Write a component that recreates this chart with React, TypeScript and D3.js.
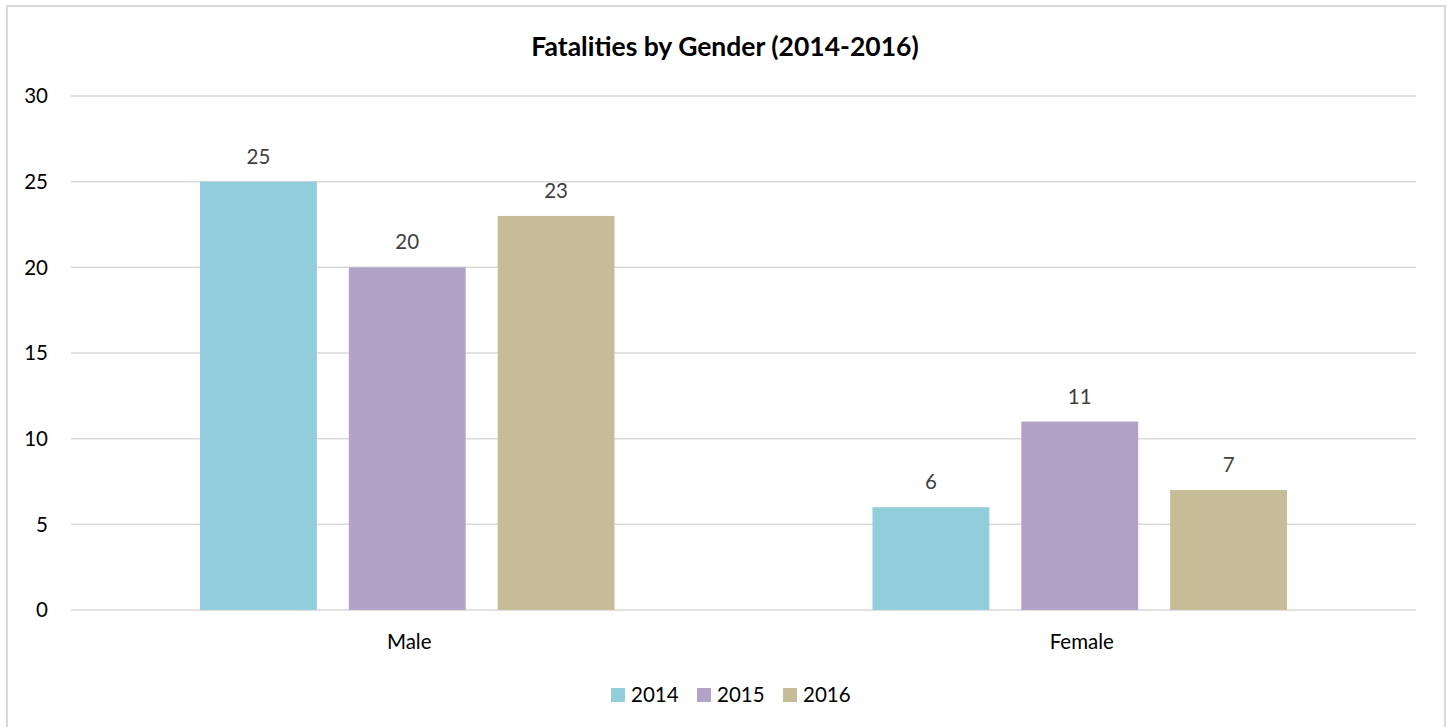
import React from "react";
import * as d3 from "d3";

const categories = ["Male", "Female"];
const seriesNames = ["2014", "2015", "2016"];
const values2014 = [25, 6];
const values2015 = [20, 11];
const values2016 = [23, 7];
const seriesValues = [values2014, values2015, values2016];
const colors = ["#92CDDC", "#B3A2C7", "#C4BD97"];
const yTicks = [0, 5, 10, 15, 20, 25, 30];

const W = 1448;
const H = 727;
const left = 71;
const right = 1416;
const top = 96;
const bottom = 610;
const font = "Lato, 'Open Sans', sans-serif";
const fs = 20.5;

export default function App() {
  const x = d3.scaleBand<string>().domain(categories).range([left, right]).padding(0);
  const bw = x.bandwidth();
  const outer = bw * (129 / 672.5);
  const xs = d3
    .scaleBand<string>()
    .domain(seriesNames)
    .range([outer, bw - outer])
    .paddingInner(0.215)
    .paddingOuter(0);
  const y = d3.scaleLinear().domain([0, 30]).range([bottom, top]);

  const legendStart = 611;
  const legendStep = 86;

  return (
    <div style={{ position: "absolute", left: 0, top: 0 }}>
      <svg width={W} height={H} style={{ display: "block" }}>
        <rect x={0} y={0} width={W} height={H} fill="#fff" />
        <rect x={7} y={6} width={1438} height={730} fill="#fff" stroke="#D9D9D9" strokeWidth={2} />
        <text
          x={725}
          y={56}
          textAnchor="middle"
          fontFamily={font}
          fontWeight="bold"
          fontSize={26.5}
          fill="#000"
        >
          Fatalities by Gender (2014-2016)
        </text>
        {yTicks.map((t) => (
          <g key={t}>
            <line x1={left} x2={right} y1={y(t)} y2={y(t)} stroke="#D9D9D9" strokeWidth={1.5} />
            <text
              x={48}
              y={y(t)}
              dy="0.35em"
              textAnchor="end"
              fontFamily={font}
              fontSize={fs}
              fill="#000"
            >
              {t}
            </text>
          </g>
        ))}
        {categories.map((c, ci) => (
          <g key={c}>
            {seriesNames.map((s, si) => {
              const v = seriesValues[si][ci];
              const bx = (x(c) as number) + (xs(s) as number);
              return (
                <g key={s}>
                  <rect x={bx} y={y(v)} width={xs.bandwidth()} height={bottom - y(v)} fill={colors[si]} />
                  <text
                    x={bx + xs.bandwidth() / 2}
                    y={y(v) - 18}
                    textAnchor="middle"
                    fontFamily={font}
                    fontSize={fs}
                    fill="#404040"
                  >
                    {v}
                  </text>
                </g>
              );
            })}
            <text
              x={(x(c) as number) + bw / 2 + 2}
              y={642}
              dy="0.35em"
              textAnchor="middle"
              fontFamily={font}
              fontSize={fs}
              fill="#000"
            >
              {c}
            </text>
          </g>
        ))}
        {seriesNames.map((s, si) => (
          <g key={s} transform={`translate(${legendStart + si * legendStep},0)`}>
            <rect x={0} y={688} width={14} height={14} fill={colors[si]} />
            <text x={20} y={695} dy="0.35em" fontFamily={font} fontSize={fs} fill="#000">
              {s}
            </text>
          </g>
        ))}
      </svg>
    </div>
  );
}
